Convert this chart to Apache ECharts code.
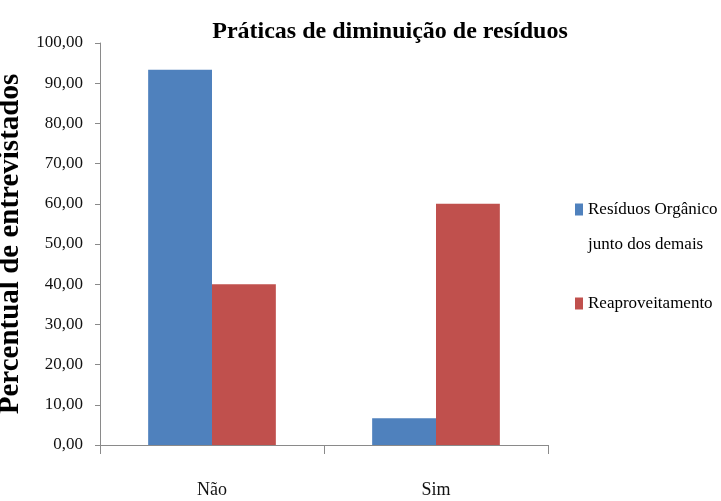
<!DOCTYPE html>
<html>
<head>
<meta charset="utf-8">
<script src="https://cdn.jsdelivr.net/npm/echarts@6/dist/echarts.min.js"></script>
<style>
  html, body { margin: 0; padding: 0; background: #fff; }
  #chart { width: 721px; height: 501px; }
</style>
</head>
<body>
<div id="chart"></div>
<script>
var categories = ['Não', 'Sim'];
var organicoValues = [93.33, 6.67];
var reaproveitamentoValues = [40.00, 60.00];
var seriesNames = ['Resíduos Orgânico junto dos demais', 'Reaproveitamento'];
// leading empty line keeps the marker level with the first line of text
var legendLabels = ['\nResíduos Orgânico\njunto dos demais', 'Reaproveitamento'];

var serif = '"Liberation Serif", "Times New Roman", serif';
var axisColor = '#8a8a8a';

var chart = echarts.init(document.getElementById('chart'));
chart.setOption({
  animation: false,
  title: {
    text: 'Práticas de diminuição de resíduos',
    left: 385,
    textAlign: 'center',
    top: 15,
    textStyle: { fontFamily: serif, fontSize: 24, fontWeight: 'bold', color: '#000' }
  },
  legend: [
    {
      data: [seriesNames[0]],
      left: 575,
      top: 157,
      padding: 0,
      itemWidth: 8,
      itemHeight: 12,
      icon: 'rect',
      formatter: function () { return legendLabels[0]; },
      textStyle: { fontFamily: serif, fontSize: 17, color: '#000', lineHeight: 35 }
    },
    {
      data: [seriesNames[1]],
      left: 575,
      top: 295,
      padding: 0,
      itemWidth: 8,
      itemHeight: 12,
      icon: 'rect',
      formatter: function () { return legendLabels[1]; },
      textStyle: { fontFamily: serif, fontSize: 17, color: '#000' }
    }
  ],
  grid: { left: 100, right: 173, top: 43, bottom: 56, containLabel: false, outerBoundsMode: 'none' },
  xAxis: {
    type: 'category',
    data: categories,
    axisLine: { lineStyle: { color: axisColor, width: 1 } },
    axisTick: { show: true, length: 9, lineStyle: { color: axisColor } },
    axisLabel: { margin: 36, fontFamily: serif, fontSize: 18, color: '#111' }
  },
  yAxis: {
    type: 'value',
    min: 0,
    max: 100,
    interval: 10,
    name: 'Percentual de entrevistados',
    nameLocation: 'middle',
    nameGap: 58,
    nameTextStyle: { fontFamily: serif, fontSize: 29, fontWeight: 'bold', color: '#000' },
    splitLine: { show: false },
    axisLine: { show: true, lineStyle: { color: axisColor, width: 1 } },
    axisTick: { show: true, length: 5, lineStyle: { color: axisColor } },
    axisLabel: {
      margin: 17,
      fontFamily: serif,
      fontSize: 17,
      color: '#111',
      formatter: function (v) { return v.toFixed(2).replace('.', ','); }
    }
  },
  series: [
    {
      name: seriesNames[0],
      type: 'bar',
      data: organicoValues,
      barGap: '0%',
      barCategoryGap: '43%',
      itemStyle: { color: '#4F81BD' }
    },
    {
      name: seriesNames[1],
      type: 'bar',
      data: reaproveitamentoValues,
      barGap: '0%',
      barCategoryGap: '43%',
      itemStyle: { color: '#C0504D' }
    }
  ]
});
</script>
</body>
</html>
